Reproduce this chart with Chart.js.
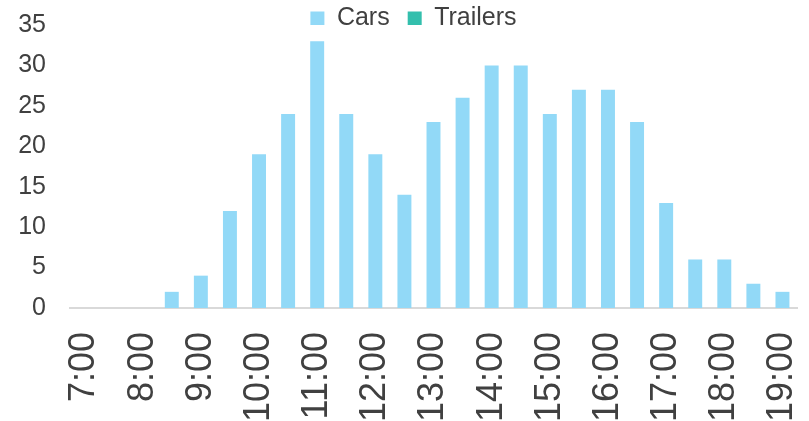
<!DOCTYPE html>
<html>
<head>
<meta charset="utf-8">
<script src="https://cdn.jsdelivr.net/npm/chart.js@4/dist/chart.umd.min.js"></script>
<style>
  html, body { margin: 0; padding: 0; background: #ffffff; }
  #wrap { width: 809px; height: 421px; position: relative; }
</style>
</head>
<body>
<div id="wrap"><canvas id="c" width="809" height="421"></canvas></div>
<script>
const categories = ["7:00","7:30","8:00","8:30","9:00","9:30","10:00","10:30","11:00","11:30","12:00","12:30","13:00","13:30","14:00","14:30","15:00","15:30","16:00","16:30","17:00","17:30","18:00","18:30","19:00"];
const cars =       [0, 0, 0, 2, 4, 12, 19, 24, 33, 24, 19, 14, 23, 26, 30, 30, 24, 27, 27, 23, 13, 6, 6, 3, 2];
const trailers =   [0, 0, 0, 0, 0, 0, 0, 0, 0, 0, 0, 0, 0, 0, 0, 0, 0, 0, 0, 0, 0, 0, 0, 0, 0];
const yTicks = [0, 5, 10, 15, 20, 25, 30, 35];

const textColor = '#404040';
const fontFamily = "'Liberation Sans', Arial, sans-serif";

// Legend sits partly above the plot area (as in the original): shorten its layout box
// and nudge it right slightly.
const legendTweak = {
  id: 'legendTweak',
  beforeLayout(chart) {
    const lg = chart.legend;
    if (lg && !lg._wrapped) {
      const f = lg.fit;
      lg.fit = function() { f.call(this); this.height = 37; };
      lg._wrapped = true;
    }
  },
  afterLayout(chart) {
    if (chart.legend) { chart.legend.left += 30; }
  }
};

new Chart(document.getElementById('c'), {
  type: 'bar',
  data: {
    labels: categories,
    datasets: [
      { label: 'Cars', data: cars, backgroundColor: '#92d9f7', borderWidth: 0, categoryPercentage: 1, barPercentage: 0.48 },
      { label: 'Trailers', data: trailers, backgroundColor: '#33bfad', borderWidth: 0, categoryPercentage: 1, barPercentage: 0.48 }
    ]
  },
  options: {
    responsive: false,
    animation: false,
    devicePixelRatio: 1,
    layout: { padding: { left: 0, right: 12, top: -12, bottom: 0 } },
    plugins: {
      legend: {
        display: true,
        position: 'top',
        align: 'center',
        labels: {
          color: textColor,
          font: { family: fontFamily, size: 25 },
          boxWidth: 14,
          boxHeight: 14,
          padding: 18
        }
      },
      tooltip: { enabled: false }
    },
    scales: {
      x: {
        stacked: true,
        grid: { display: false, drawTicks: false },
        border: { display: true, color: '#d9d9d9', width: 2 },
        ticks: {
          color: textColor,
          font: { family: fontFamily, size: 36 },
          autoSkip: false,
          maxRotation: 90,
          minRotation: 90,
          padding: 24,
          callback: function(v, i) { return i % 2 === 0 ? categories[i] : ''; }
        },
        afterFit(scale) { scale.height = 113; scale.paddingLeft = 0; scale.paddingRight = 0; }
      },
      y: {
        stacked: true,
        min: 0,
        max: 35,
        grid: { display: false, drawTicks: false },
        border: { display: false },
        afterBuildTicks(scale) { scale.ticks = yTicks.map(v => ({ value: v })); },
        ticks: {
          color: textColor,
          font: { family: fontFamily, size: 25 },
          padding: 24
        },
        afterFit(scale) { scale.width = 70; scale.paddingTop = 0; scale.paddingBottom = 0; }
      }
    }
  },
  plugins: [legendTweak]
});
</script>
</body>
</html>
